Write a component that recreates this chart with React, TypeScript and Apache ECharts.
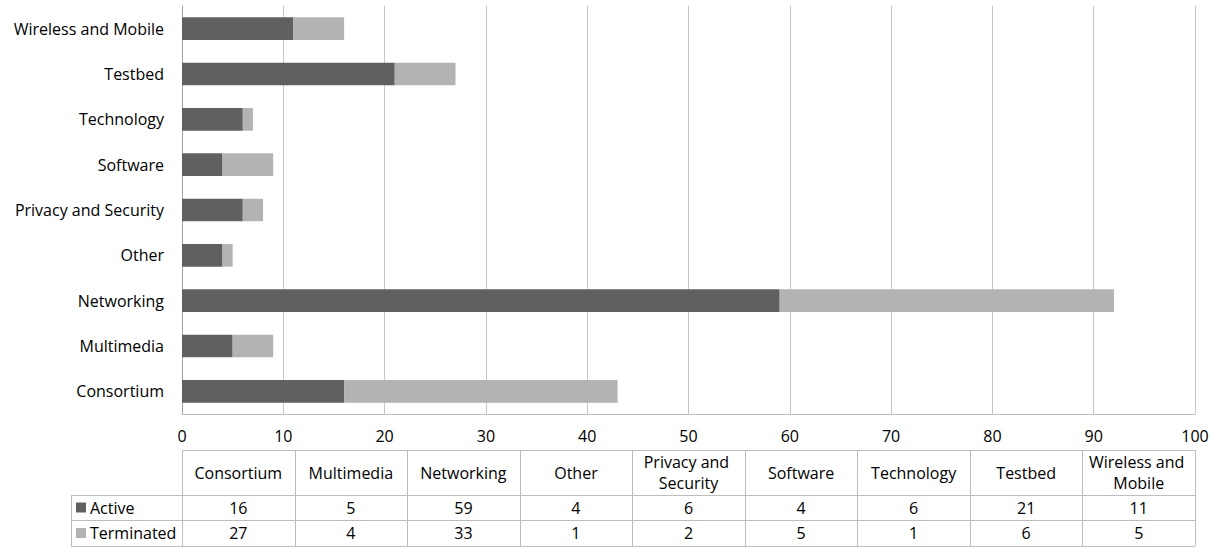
import React, { useEffect, useRef } from "react";
import * as echarts from "echarts";

const categories = ["Consortium", "Multimedia", "Networking", "Other", "Privacy and Security", "Software", "Technology", "Testbed", "Wireless and Mobile"];
const activeValues = [16, 5, 59, 4, 6, 4, 6, 21, 11];
const terminatedValues = [27, 4, 33, 1, 2, 5, 1, 6, 5];
const seriesNames = ["Active", "Terminated"];
const seriesColors = ["#606060", "#b3b3b3"];
const xTicks = { min: 0, max: 100, interval: 10 };

const W = 1214;
const H = 548;
const GL = 182;
const GR = 1195;
const GT = 6;
const GB = 414;
const FONT = "'Open Sans', sans-serif";
const FS = 16;
const LINE = "#bdbdbd";

export default function App() {
  const ref = useRef<HTMLDivElement>(null);
  useEffect(() => {
    if (!ref.current) return;
    const chart = echarts.init(ref.current, null, { renderer: "svg" });
    const colW = (GR - GL) / categories.length;
    const tTop = 450;
    const hdrB = 495;
    const r1B = 520;
    const r2B = 546;
    const legL = 71;
    const g: any[] = [];
    const line = (x1: number, y1: number, x2: number, y2: number) =>
      g.push({ type: "line", shape: { x1, y1, x2, y2 }, style: { stroke: LINE, lineWidth: 1 }, silent: true });
    line(GL, tTop + 0.5, GR, tTop + 0.5);
    line(legL, hdrB + 0.5, GR, hdrB + 0.5);
    line(legL, r1B + 0.5, GR, r1B + 0.5);
    line(legL, r2B + 0.5, GR, r2B + 0.5);
    line(legL + 0.5, hdrB, legL + 0.5, r2B);
    for (let i = 0; i <= categories.length; i++) {
      const x = Math.round(GL + i * colW) + 0.5;
      line(x, tTop, x, r2B);
    }
    categories.forEach((c, i) => {
      const cx = GL + (i + 0.5) * colW;
      g.push({
        type: "text",
        x: cx,
        y: (tTop + hdrB) / 2,
        style: {
          text: c,
          width: colW - 6,
          overflow: "break",
          align: "center",
          verticalAlign: "middle",
          font: `${FS}px ${FONT}`,
          fill: "#000",
          lineHeight: 21,
        },
      });
      [activeValues[i], terminatedValues[i]].forEach((v, r) => {
        g.push({
          type: "text",
          x: cx,
          y: r === 0 ? (hdrB + r1B) / 2 : (r1B + r2B) / 2,
          style: { text: String(v), align: "center", verticalAlign: "middle", font: `${FS}px ${FONT}`, fill: "#000" },
        });
      });
    });
    seriesNames.forEach((n, r) => {
      const cy = r === 0 ? (hdrB + r1B) / 2 : (r1B + r2B) / 2;
      g.push({ type: "rect", shape: { x: 76, y: cy - 5, width: 10, height: 10 }, style: { fill: seriesColors[r] } });
      g.push({
        type: "text",
        x: 90,
        y: cy,
        style: { text: n, align: "left", verticalAlign: "middle", font: `${FS}px ${FONT}`, fill: "#000" },
      });
    });

    chart.setOption({
      animation: false,
      grid: { left: GL, right: W - GR, top: GT, bottom: H - GB, containLabel: false },
      xAxis: {
        type: "value",
        min: xTicks.min,
        max: xTicks.max,
        interval: xTicks.interval,
        axisLine: { show: true, lineStyle: { color: LINE } },
        axisTick: { show: false },
        splitLine: { show: true, lineStyle: { color: "#c6c6c6", width: 1 } },
        axisLabel: { color: "#000", fontFamily: FONT, fontSize: FS, margin: 14 },
      },
      yAxis: {
        type: "category",
        data: categories,
        axisLine: { show: true, lineStyle: { color: "#a0a0a0" } },
        axisTick: { show: false },
        axisLabel: { color: "#000", fontFamily: FONT, fontSize: FS, margin: 18 },
      },
      series: seriesNames.map((n, i) => ({
        name: n,
        type: "bar",
        stack: "total",
        data: i === 0 ? activeValues : terminatedValues,
        barWidth: "50%",
        itemStyle: { color: seriesColors[i] },
      })),
      graphic: g,
    });
    return () => chart.dispose();
  }, []);
  return <div ref={ref} style={{ width: W, height: H, position: "absolute", left: 0, top: 0 }} />;
}
